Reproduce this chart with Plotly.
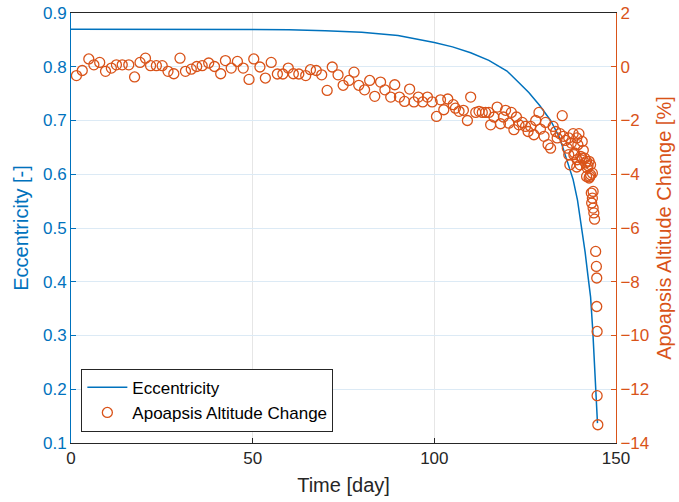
import plotly.graph_objects as go

# Eccentricity (left axis)
ecc_time = [0, 10, 20, 30, 40, 50, 60, 70, 80, 90, 95, 100, 105, 110, 115, 120,
            122.6, 126, 129, 132, 134.5, 136.6, 138.2, 139.4, 140.5, 141.5,
            142.3, 143.0, 143.6, 144.1, 144.5, 144.9]
ecc_vals = [0.870, 0.870, 0.870, 0.870, 0.870, 0.870, 0.869, 0.867, 0.864, 0.858,
            0.852, 0.845, 0.837, 0.826, 0.812, 0.792, 0.775, 0.752, 0.728, 0.700,
            0.668, 0.626, 0.590, 0.552, 0.505, 0.455, 0.410, 0.372, 0.310, 0.250,
            0.190, 0.137]

# Apoapsis altitude change (right axis)
apo_time = [1.5, 3.1, 4.9, 6.3, 7.9, 9.5, 11.1, 12.5, 14.1, 15.9,
            17.5, 19.0, 20.5, 21.9, 23.5, 25.1, 26.7, 28.3, 30.0, 31.5,
            33.1, 34.6, 36.1, 37.9, 39.5, 41.2, 42.5, 44.1, 45.8, 47.4,
            49.0, 50.3, 52.0, 53.5, 55.1, 56.8, 58.3, 59.8, 61.2, 62.7,
            64.6, 65.9, 67.5, 69.0, 70.5, 71.9, 73.5, 74.9, 76.5, 77.9,
            79.2, 80.8, 82.2, 83.6, 85.2, 86.4, 88.0, 89.1, 90.4, 91.8,
            93.2, 94.4, 95.6, 96.8, 98.1, 99.4, 100.6, 101.7, 102.6, 103.7,
            105.2, 105.8, 106.8, 108.0, 109.1, 110.0, 111.4, 112.3, 113.2, 114.1,
            115.0, 115.5, 116.4, 117.3, 118.2, 119.0, 119.6, 120.5, 121.2, 121.9,
            122.6, 123.3, 124.2, 125.1, 125.8, 126.5, 127.4, 127.9, 128.8, 129.2,
            130.2, 130.6, 131.3, 132.0, 132.7, 133.4, 133.8, 134.6, 135.2, 135.5,
            136.1, 136.6, 137.0, 137.3, 137.7, 138.2, 138.6, 139.2, 139.2, 139.5,
            139.8, 140.3, 140.7, 141.0, 141.4, 141.9, 142.3, 142.6, 143.0, 142.6,
            142.8, 143.5, 143.2, 143.7, 137.0, 138.4, 139.3, 140.1, 140.7, 141.6,
            142.1, 141.9, 143.0, 143.5, 143.3, 143.7, 143.9, 144.1, 144.4, 144.6,
            144.7, 144.7, 144.8, 144.8, 145.0]
apo_change = [-0.33, -0.14, 0.29, 0.07, 0.16, -0.17, -0.05, 0.07, 0.07, 0.07,
              -0.38, 0.16, 0.32, 0.04, 0.04, 0.04, -0.17, -0.26, 0.32, -0.17,
              -0.09, 0.01, 0.04, 0.14, 0.01, -0.26, 0.23, -0.05, 0.20, -0.05,
              -0.47, 0.29, -0.01, -0.42, 0.16, -0.27, -0.27, -0.05, -0.26, -0.27,
              -0.33, -0.11, -0.14, -0.30, -0.88, -0.01, -0.30, -0.69, -0.51, -0.20,
              -0.69, -0.86, -0.51, -1.10, -0.57, -0.86, -1.13, -0.67, -1.13, -1.29,
              -0.83, -1.31, -1.13, -1.31, -1.13, -1.31, -1.85, -1.23, -1.60, -1.20,
              -1.41, -1.54, -1.66, -1.62, -2.00, -1.13, -1.70, -1.66, -1.70, -1.70,
              -1.70, -2.16, -1.87, -1.50, -2.12, -1.87, -1.62, -2.10, -1.70, -2.34,
              -1.87, -2.16, -2.07, -2.22, -2.41, -2.22, -2.53, -2.00, -1.70, -2.32,
              -2.59, -2.07, -2.90, -3.03, -2.22, -2.41, -2.65, -2.49, -1.82, -2.59,
              -2.74, -3.03, -2.65, -3.65, -2.84, -2.49, -3.21, -2.65, -3.73, -2.90,
              -2.49, -3.34, -2.78, -3.11, -3.40, -3.52, -3.68, -3.52, -3.65, -4.14,
              -4.08, -3.96, -4.70, -4.64, -3.27, -3.27, -3.46, -3.65, -3.40, -3.58,
              -3.77, -4.08, -4.02, -4.89, -5.07, -5.26, -5.44, -5.67, -6.87, -7.43,
              -7.86, -8.92, -9.85, -12.24, -13.32]

x_ticks = [0, 50, 100, 150]
ecc_ticks = [0.1, 0.2, 0.3, 0.4, 0.5, 0.6, 0.7, 0.8, 0.9]
apo_ticks = [2, 0, -2, -4, -6, -8, -10, -12, -14]

BLUE = "#0072BD"
ORANGE = "#D95319"
DARK = "#262626"
FONT = "Liberation Sans, Arial, sans-serif"

fig = go.Figure()
fig.add_trace(go.Scatter(
    x=ecc_time, y=ecc_vals, mode="lines", name="Eccentricity",
    line=dict(color=BLUE, width=1.5), yaxis="y"))
fig.add_trace(go.Scatter(
    x=apo_time, y=apo_change, mode="markers", name="Apoapsis Altitude Change",
    marker=dict(symbol="circle-open", size=10, color=ORANGE,
                line=dict(color=ORANGE, width=1.3)),
    yaxis="y2"))

fig.update_layout(
    width=679, height=502,
    margin=dict(l=70.5, r=63, t=13, b=59, autoexpand=False),
    paper_bgcolor="white", plot_bgcolor="white",
    font=dict(family=FONT, size=17, color=DARK),
    showlegend=True,
    legend=dict(x=0.019, y=0.026, xanchor="left", yanchor="bottom",
                bgcolor="white", bordercolor=DARK, borderwidth=1,
                font=dict(size=17, color="#000000"), tracegroupgap=0,
                itemwidth=40),
    xaxis=dict(range=[0, 150], tickvals=x_ticks, ticks="inside", ticklen=5,
               tickcolor=DARK, showline=True, linecolor=DARK,
               linewidth=1, mirror=True, showgrid=True, gridcolor="#E6E6E6",
               zeroline=False, automargin=False,
               tickfont=dict(size=17, color=DARK),
               title=dict(text="Time [day]", font=dict(size=20, color=DARK),
                          standoff=10)),
    yaxis=dict(range=[0.1, 0.9], tickvals=ecc_ticks, tickformat=".1f",
               ticks="inside", ticklen=5, tickcolor=BLUE,
               showline=True, linecolor=BLUE, linewidth=1,
               showgrid=True, gridcolor="#DCEAF5", zeroline=False,
               automargin=False,
               tickfont=dict(size=17, color=BLUE),
               title=dict(text="Eccentricity [-]", font=dict(size=20, color=BLUE),
                          standoff=8)),
    yaxis2=dict(range=[-14, 2], tickvals=apo_ticks, overlaying="y", side="right",
                ticks="inside", ticklen=5, tickcolor=ORANGE,
                showline=True, linecolor=ORANGE, linewidth=1,
                showgrid=False, zeroline=False, automargin=False,
                tickfont=dict(size=17, color=ORANGE),
                title=dict(text="Apoapsis Altitude Change [%]",
                           font=dict(size=20, color=ORANGE), standoff=8)),
)

fig.write_html("out.html")
